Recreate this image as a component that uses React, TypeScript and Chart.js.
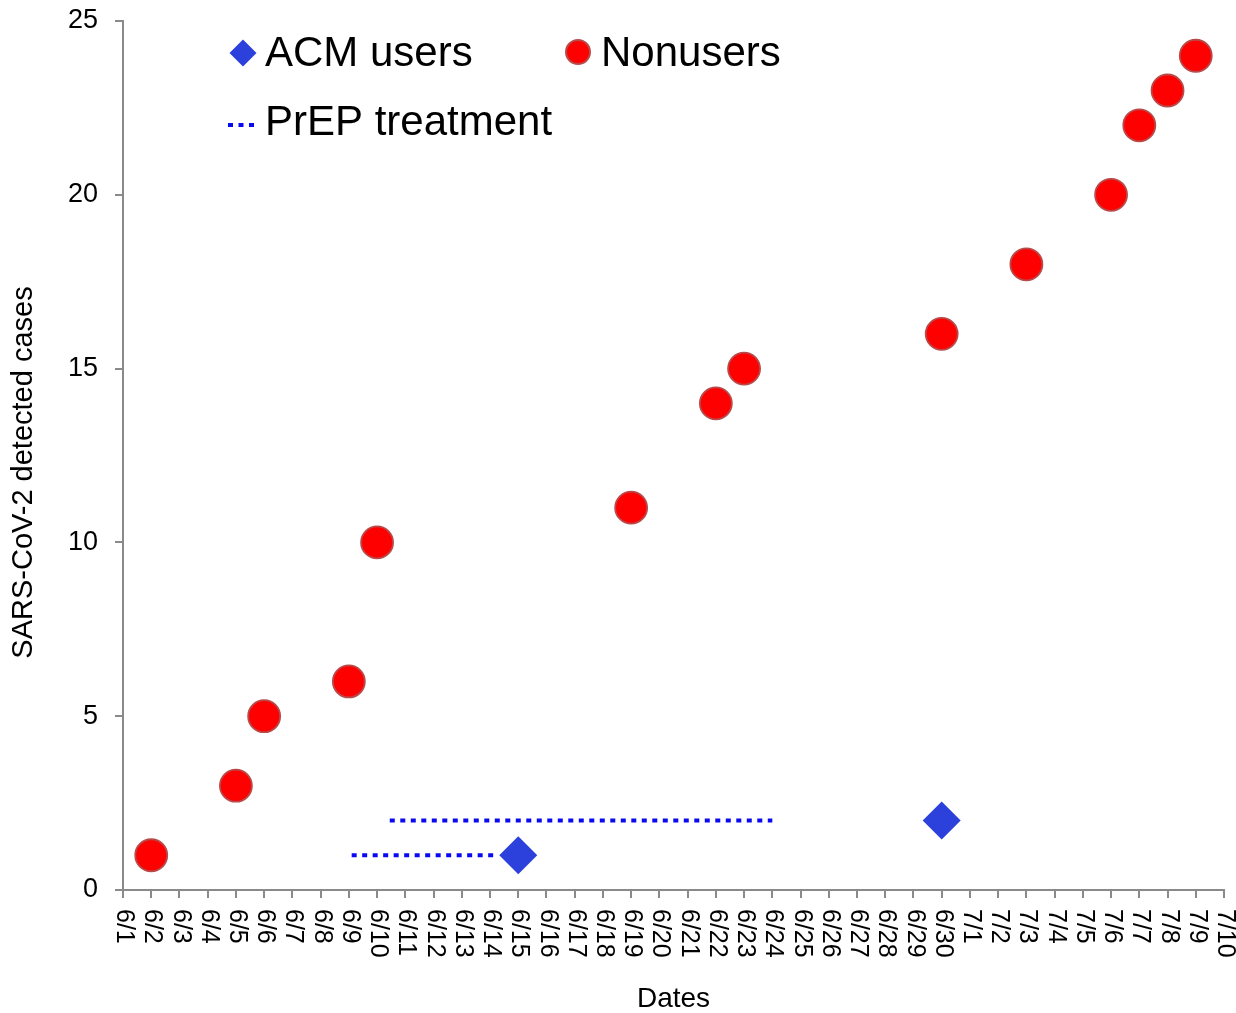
import { useEffect, useRef } from "react";
import { Chart, registerables } from "chart.js";

Chart.register(...registerables);

const dateLabels = [
  "6/1", "6/2", "6/3", "6/4", "6/5", "6/6", "6/7", "6/8", "6/9", "6/10",
  "6/11", "6/12", "6/13", "6/14", "6/15", "6/16", "6/17", "6/18", "6/19", "6/20",
  "6/21", "6/22", "6/23", "6/24", "6/25", "6/26", "6/27", "6/28", "6/29", "6/30",
  "7/1", "7/2", "7/3", "7/4", "7/5", "7/6", "7/7", "7/8", "7/9", "7/10",
];

const yTicks = [0, 5, 10, 15, 20, 25];

const nonuserDates = ["6/2", "6/5", "6/6", "6/9", "6/10", "6/19", "6/22", "6/23", "6/30", "7/3", "7/6", "7/7", "7/8", "7/9"];
const nonuserCases = [1, 3, 5, 6, 10, 11, 14, 15, 16, 18, 20, 22, 23, 24];

const acmDates = ["6/15", "6/30"];
const acmCases = [1, 2];

// PrEP treatment periods (positions in day-index units along the date axis)
const prepStart = [8.1, 9.45];
const prepEnd = [13.15, 23.0];
const prepLevel = [1, 2];

const Y_TITLE = "SARS-CoV-2 detected cases";
const X_TITLE = "Dates";

const FONT = "'Liberation Sans', Arial, Helvetica, sans-serif";
const AXIS_GREY = "#8a8a8a";
const RED = "#ff0000";
const RED_BORDER = "#b84a4a";
const BLUE_DIAMOND = "#2c40dc";
const BLUE_DOT = "#0a0af0";
const DASH = [5, 5.5];

const idx = (d: string) => dateLabels.indexOf(d);

export default function App() {
  const canvasRef = useRef<HTMLCanvasElement | null>(null);

  useEffect(() => {
    document.body.style.margin = "0";
    document.body.style.overflow = "hidden";
    const canvas = canvasRef.current;
    if (!canvas) return;

    const textPlugin = {
      id: "axisTexts",
      afterDraw(chart: any) {
        const ctx = chart.ctx;
        const xs = chart.scales.x;
        const ys = chart.scales.y;
        ctx.save();
        ctx.fillStyle = "#000";
        // rotated date labels (reading top to bottom)
        ctx.font = `25px ${FONT}`;
        ctx.textAlign = "left";
        ctx.textBaseline = "middle";
        dateLabels.forEach((lab, i) => {
          const px = xs.getPixelForValue(i);
          ctx.save();
          ctx.translate(px + 1, xs.top + 19);
          ctx.rotate(Math.PI / 2);
          ctx.fillText(lab, 0, 0);
          ctx.restore();
        });
        // y axis title
        ctx.font = `29px ${FONT}`;
        ctx.textAlign = "center";
        ctx.textBaseline = "middle";
        ctx.save();
        ctx.translate(ys.left + 24, (ys.top + ys.bottom) / 2 + 17);
        ctx.rotate(-Math.PI / 2);
        ctx.fillText(Y_TITLE, 0, 0);
        ctx.restore();
        ctx.restore();
      },
    };

    const legendPlugin = {
      id: "customLegend",
      afterDraw(chart: any) {
        const ctx = chart.ctx;
        const ca = chart.chartArea;
        const L = ca.left;
        const T = ca.top;
        const ds = chart.data.datasets;
        ctx.save();
        ctx.font = `42px ${FONT}`;
        ctx.textBaseline = "middle";
        ctx.textAlign = "left";
        // ACM users
        const dx = L + 120, dy = T + 32, r = 13.5;
        ctx.fillStyle = BLUE_DIAMOND;
        ctx.beginPath();
        ctx.moveTo(dx - r, dy);
        ctx.lineTo(dx, dy - r);
        ctx.lineTo(dx + r, dy);
        ctx.lineTo(dx, dy + r);
        ctx.closePath();
        ctx.fill();
        ctx.fillStyle = "#000";
        ctx.fillText(ds[0].label, L + 142, dy + 1);
        // Nonusers
        const cx = L + 455, cy = T + 31;
        ctx.fillStyle = RED;
        ctx.strokeStyle = RED_BORDER;
        ctx.lineWidth = 2;
        ctx.beginPath();
        ctx.arc(cx, cy, 12, 0, Math.PI * 2);
        ctx.fill();
        ctx.stroke();
        ctx.fillStyle = "#000";
        ctx.fillText(ds[1].label, L + 478, dy + 1);
        // PrEP treatment
        const ly = T + 104;
        ctx.strokeStyle = BLUE_DOT;
        ctx.lineWidth = 4;
        ctx.setLineDash(DASH);
        ctx.beginPath();
        ctx.moveTo(L + 105, ly);
        ctx.lineTo(L + 135, ly);
        ctx.stroke();
        ctx.setLineDash([]);
        ctx.fillStyle = "#000";
        ctx.fillText(ds[2].label, L + 142, ly - 2);
        ctx.restore();
      },
    };

    const prepDatasets = prepStart.map((s, i) => ({
      label: "PrEP treatment",
      data: [
        { x: s, y: prepLevel[i] },
        { x: prepEnd[i], y: prepLevel[i] },
      ],
      showLine: true,
      borderColor: BLUE_DOT,
      borderWidth: 4,
      borderDash: DASH,
      borderCapStyle: "butt",
      pointRadius: 0,
      pointHoverRadius: 0,
      fill: false,
      order: 3,
    }));

    const chart = new Chart(canvas, {
      type: "scatter",
      data: {
        datasets: [
          {
            label: "ACM users",
            data: acmDates.map((d, i) => ({ x: idx(d), y: acmCases[i] })),
            pointStyle: "rectRot",
            pointRadius: 19,
            pointHoverRadius: 19,
            backgroundColor: BLUE_DIAMOND,
            borderColor: BLUE_DIAMOND,
            borderWidth: 0,
            order: 1,
          },
          {
            label: "Nonusers",
            data: nonuserDates.map((d, i) => ({ x: idx(d), y: nonuserCases[i] })),
            pointStyle: "circle",
            pointRadius: 16,
            pointHoverRadius: 16,
            backgroundColor: RED,
            borderColor: RED_BORDER,
            borderWidth: 1.8,
            order: 2,
          },
          ...(prepDatasets as any[]),
        ],
      },
      options: {
        animation: false,
        responsive: true,
        maintainAspectRatio: false,
        layout: { autoPadding: false, padding: { top: 21, right: 12, left: 0, bottom: 0 } },
        plugins: {
          legend: { display: false },
          tooltip: { enabled: false },
          title: { display: false },
        },
        scales: {
          x: {
            type: "linear",
            min: 0,
            max: dateLabels.length - 1,
            afterBuildTicks(scale: any) {
              scale.ticks = dateLabels.map((_, i) => ({ value: i }));
            },
            afterFit(scale: any) {
              scale.height = 123;
              scale.paddingLeft = 0;
              scale.paddingRight = 0;
            },
            ticks: { display: false },
            grid: {
              drawOnChartArea: false,
              drawTicks: true,
              tickLength: 8,
              color: AXIS_GREY,
              lineWidth: 2,
            },
            border: { display: true, color: AXIS_GREY, width: 2 },
            title: {
              display: true,
              text: X_TITLE,
              color: "#000",
              font: { family: FONT, size: 28, lineHeight: 1 },
              padding: { top: 0, bottom: 0 },
            },
          },
          y: {
            type: "linear",
            min: 0,
            max: 25,
            afterBuildTicks(scale: any) {
              scale.ticks = yTicks.map((v) => ({ value: v }));
            },
            afterFit(scale: any) {
              scale.width = 123;
              scale.paddingTop = 0;
              scale.paddingBottom = 0;
            },
            ticks: {
              color: "#000",
              font: { family: FONT, size: 27 },
              padding: 17,
            },
            grid: {
              drawOnChartArea: false,
              drawTicks: true,
              tickLength: 8,
              color: AXIS_GREY,
              lineWidth: 2,
            },
            border: { display: true, color: AXIS_GREY, width: 2 },
            title: { display: false, text: Y_TITLE },
          },
        },
      },
      plugins: [textPlugin, legendPlugin],
    } as any);

    return () => {
      chart.destroy();
    };
  }, []);

  return (
    <div style={{ position: "relative", width: "1236px", height: "1013px" }}>
      <canvas ref={canvasRef} />
    </div>
  );
}
